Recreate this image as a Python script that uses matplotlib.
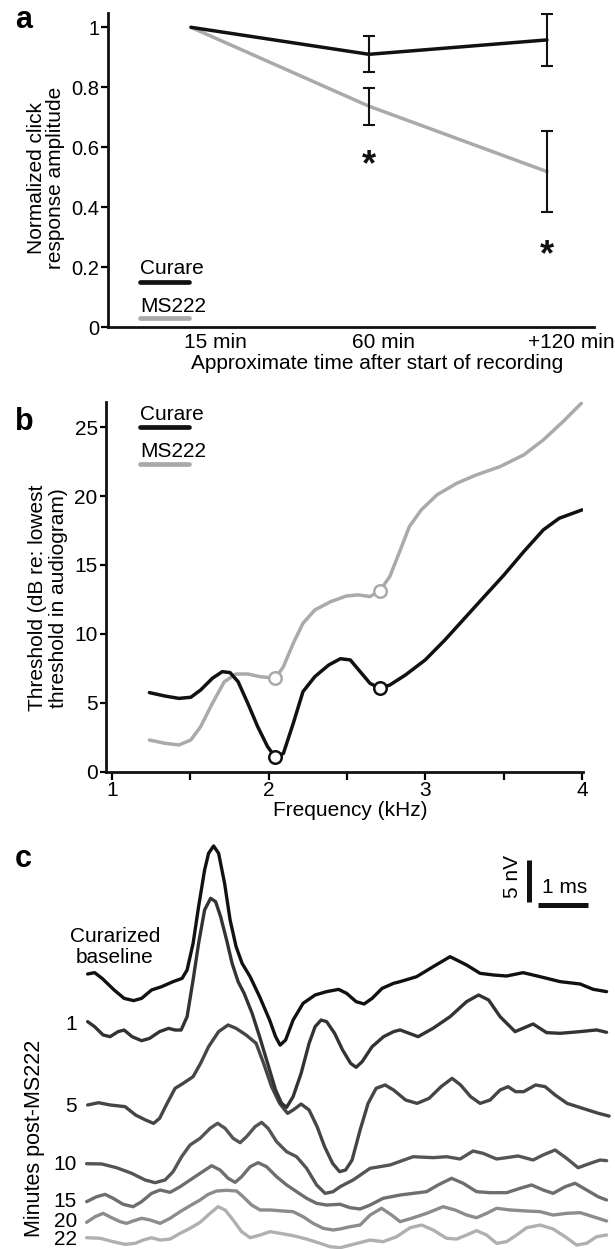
import matplotlib
matplotlib.use('Agg')
import matplotlib.pyplot as plt
from matplotlib.transforms import ScaledTranslation

plt.rcParams['font.family'] = ['Liberation Sans', 'DejaVu Sans']

# ---------------- data: panel a ----------------
time_labels = ['15 min', '60 min', '+120 min']
time_pos = [1, 2, 3]
curare_amp = [1.0, 0.91, 0.958]
curare_err = [0.0, 0.06, 0.087]
ms222_amp = [1.0, 0.737, 0.519]
ms222_err = [0.0, 0.062, 0.134]
sig_pos = [2, 3]
sig_y = [0.569, 0.269]
a_yticks = [0, 0.2, 0.4, 0.6, 0.8, 1]
a_yticklabels = ['0', '0.2', '0.4', '0.6', '0.8', '1']

# ---------------- data: panel b ----------------
freq_curare = [1.239, 1.339, 1.427, 1.503, 1.566, 1.641, 1.704, 1.754, 1.805, 1.867,
               1.930, 1.993, 2.043, 2.094, 2.157, 2.219, 2.295, 2.383, 2.458, 2.521,
               2.584, 2.647, 2.710, 2.773, 2.873, 2.999, 3.125, 3.250, 3.376, 3.502,
               3.628, 3.753, 3.854, 4.0]
thr_curare = [5.74, 5.49, 5.32, 5.40, 5.93, 6.78, 7.26, 7.19, 6.53, 4.96,
              3.27, 1.82, 1.04, 1.33, 3.51, 5.81, 6.90, 7.74, 8.20, 8.11,
              7.26, 6.41, 6.05, 6.29, 7.02, 8.11, 9.56, 11.13, 12.71, 14.28,
              15.97, 17.55, 18.39, 19.0]
freq_ms222 = [1.239, 1.339, 1.427, 1.503, 1.566, 1.641, 1.717, 1.792, 1.867, 1.943,
              2.043, 2.094, 2.157, 2.219, 2.295, 2.396, 2.496, 2.571, 2.647, 2.710,
              2.773, 2.836, 2.898, 2.974, 3.074, 3.200, 3.326, 3.477, 3.628, 3.753,
              3.879, 4.0]
thr_ms222 = [2.30, 2.06, 1.94, 2.30, 3.27, 4.96, 6.53, 7.09, 7.09, 6.90,
             6.78, 7.62, 9.32, 10.77, 11.74, 12.34, 12.75, 12.83, 12.71, 13.14,
             14.16, 15.97, 17.79, 19.00, 20.09, 20.93, 21.54, 22.14, 22.99, 24.08,
             25.41, 26.79]
mark_freq = [2.043, 2.710]
mark_curare = [1.04, 6.05]
mark_ms222 = [6.78, 13.14]
b_xticks = [1, 1.5, 2, 2.5, 3, 3.5, 4]
b_xticklabels = ['1', '', '2', '', '3', '', '4']
b_yticks = [0, 5, 10, 15, 20, 25]

# ---------------- data: panel c (time in ms, level in nV) ----------------
t_base = [0.02, 0.16, 0.31, 0.55, 0.75, 0.94, 1.10, 1.30, 1.50, 1.73, 1.91, 2.01, 2.13,
          2.24, 2.36, 2.44, 2.54, 2.64, 2.76, 2.87, 2.99, 3.11, 3.27, 3.46, 3.66, 3.78,
          3.87, 3.98, 4.13, 4.33, 4.57, 4.80, 5.04, 5.20, 5.39, 5.55, 5.71, 5.91, 6.14,
          6.27, 6.60, 6.93, 7.27, 7.60, 7.87, 8.14, 8.40, 8.73, 9.07, 9.47, 9.87, 10.13, 10.40]
v_base = [32.46, 32.62, 31.94, 30.56, 29.56, 29.29, 29.56, 30.56, 30.95, 31.55, 31.94, 32.94, 36.11,
          40.48, 44.84, 46.83, 47.70, 46.83, 43.25, 38.89, 35.71, 33.73, 32.14, 29.76, 26.98, 25.0,
          24.0, 24.6, 26.98, 28.97, 29.96, 30.36, 30.63, 30.16, 29.17, 28.89, 29.56, 30.75, 31.35,
          31.55, 32.14, 33.33, 34.52, 33.53, 32.54, 32.34, 32.22, 32.62, 32.14, 31.55, 31.27, 30.64, 30.36]

t_m1 = [0.02, 0.16, 0.33, 0.47, 0.63, 0.75, 0.91, 1.10, 1.26, 1.46, 1.64, 1.77, 1.89, 2.01,
        2.13, 2.24, 2.36, 2.48, 2.58, 2.68, 2.80, 2.91, 3.03, 3.15, 3.31, 3.46, 3.62, 3.78,
        3.90, 4.0, 4.13, 4.29, 4.45, 4.57, 4.69, 4.80, 4.96, 5.12, 5.28, 5.39, 5.51, 5.71,
        5.94, 6.14, 6.27, 6.63, 6.93, 7.27, 7.60, 7.84, 8.04, 8.27, 8.57, 8.93, 9.20, 9.47,
        9.87, 10.20, 10.40]
v_m1 = [26.79, 26.19, 25.20, 25.0, 25.60, 25.79, 25.0, 24.52, 24.80, 25.60, 25.99, 25.79, 25.79, 27.38,
        31.75, 36.11, 40.08, 41.47, 41.07, 39.29, 36.51, 33.73, 31.55, 30.16, 27.78, 25.0, 21.83, 18.65,
        17.06, 16.59, 17.86, 20.63, 24.21, 26.19, 26.98, 26.79, 25.40, 23.41, 21.83, 21.35, 22.02, 23.81,
        25.0, 25.60, 25.8, 25.0, 26.0, 27.38, 29.17, 29.96, 29.37, 27.38, 25.6, 26.51, 25.48, 25.40,
        25.6, 25.8, 25.52]

t_m5 = [0.02, 0.24, 0.47, 0.77, 0.98, 1.18, 1.34, 1.46, 1.61, 1.77, 1.93, 2.13, 2.28, 2.44,
        2.64, 2.83, 2.99, 3.19, 3.39, 3.54, 3.70, 3.86, 4.02, 4.13, 4.29, 4.45, 4.61, 4.76,
        4.92, 5.06, 5.18, 5.31, 5.47, 5.63, 5.79, 5.97, 6.14, 6.38, 6.61, 6.85, 7.09, 7.31,
        7.48, 7.68, 7.87, 8.07, 8.27, 8.43, 8.58, 8.74, 8.98, 9.17, 9.37, 9.61, 9.92, 10.24, 10.45]
v_m5 = [16.87, 17.14, 16.87, 16.67, 15.67, 15.08, 14.68, 15.28, 17.06, 18.85, 19.44, 20.24, 21.83, 23.81,
        25.60, 26.39, 25.99, 25.20, 24.21, 21.83, 19.05, 17.06, 15.87, 16.27, 16.98, 16.27, 14.29, 11.90,
        9.92, 8.93, 9.13, 10.32, 13.89, 17.06, 18.85, 19.25, 18.65, 17.46, 17.06, 17.66, 19.05, 20.04,
        19.25, 17.86, 17.06, 17.46, 18.65, 19.05, 18.45, 18.45, 19.25, 19.05, 18.06, 17.06, 16.47, 15.87, 15.55]

t_m10 = [0.0, 0.30, 0.60, 0.90, 1.17, 1.37, 1.57, 1.73, 1.90, 2.07, 2.27, 2.47, 2.62, 2.77,
         2.93, 3.07, 3.20, 3.37, 3.50, 3.63, 3.80, 4.00, 4.20, 4.40, 4.60, 4.77, 4.93, 5.07,
         5.33, 5.67, 6.07, 6.53, 6.93, 7.20, 7.47, 7.73, 7.93, 8.20, 8.40, 8.63, 8.93, 9.13,
         9.37, 9.60, 9.83, 10.07, 10.27, 10.40]
v_m10 = [9.88, 9.85, 9.40, 8.74, 7.94, 7.62, 7.94, 8.93, 10.71, 12.11, 12.90, 14.09, 14.69, 14.09,
         12.90, 12.38, 13.10, 14.29, 14.80, 14.09, 12.50, 11.31, 10.71, 9.33, 7.35, 6.35, 6.55, 7.14,
         7.94, 9.33, 9.73, 10.71, 10.60, 10.71, 10.44, 11.39, 11.11, 10.44, 10.60, 10.80, 10.32, 10.92,
         11.51, 10.52, 9.40, 9.92, 10.32, 10.24]

t_m15 = [0.0, 0.20, 0.37, 0.53, 0.73, 0.93, 1.10, 1.30, 1.47, 1.67, 1.87, 2.07, 2.30, 2.50,
         2.67, 2.83, 2.97, 3.10, 3.27, 3.43, 3.60, 3.80, 4.00, 4.20, 4.40, 4.60, 4.80, 5.07,
         5.27, 5.47, 5.67, 5.93, 6.27, 6.53, 6.80, 7.03, 7.30, 7.53, 7.80, 8.07, 8.40, 8.67,
         8.90, 9.13, 9.33, 9.57, 9.77, 10.0, 10.23, 10.40]
v_m15 = [5.36, 5.95, 6.23, 5.76, 5.05, 4.76, 5.36, 6.35, 6.75, 6.47, 7.14, 7.94, 8.85, 9.64,
         9.13, 8.14, 7.66, 8.33, 9.52, 10.0, 9.52, 8.33, 7.35, 6.55, 5.76, 5.16, 4.96, 5.05,
         4.64, 4.49, 4.96, 5.76, 6.15, 6.35, 6.55, 7.35, 8.14, 7.55, 6.55, 6.43, 6.43, 6.95,
         7.35, 6.75, 6.35, 7.14, 7.55, 6.75, 5.95, 5.56]

t_m20 = [0.0, 0.17, 0.33, 0.50, 0.67, 0.80, 0.93, 1.10, 1.27, 1.47, 1.67, 1.87, 2.07, 2.27,
         2.43, 2.60, 2.80, 3.00, 3.13, 3.30, 3.47, 3.67, 3.93, 4.13, 4.33, 4.53, 4.73, 4.93,
         5.07, 5.27, 5.47, 5.67, 5.90, 6.10, 6.27, 6.50, 6.80, 7.13, 7.37, 7.60, 7.80, 8.00,
         8.20, 8.47, 8.80, 9.07, 9.33, 9.60, 9.87, 10.13, 10.40]
v_m20 = [2.90, 3.57, 3.97, 3.45, 2.98, 2.78, 3.06, 3.38, 3.18, 2.78, 3.38, 4.17, 4.88, 5.56,
         6.23, 6.63, 6.71, 6.63, 5.95, 4.96, 4.37, 4.37, 4.25, 4.17, 3.57, 2.78, 2.19, 1.99,
         2.11, 2.38, 2.58, 3.77, 4.57, 3.77, 2.98, 3.38, 3.97, 4.76, 4.37, 3.77, 3.45, 3.97,
         4.57, 4.37, 4.25, 4.17, 3.77, 3.97, 4.05, 3.57, 3.06]

t_m22 = [0.0, 0.27, 0.53, 0.77, 0.97, 1.13, 1.30, 1.47, 1.67, 1.87, 2.07, 2.27, 2.47, 2.63,
         2.77, 2.93, 3.10, 3.27, 3.47, 3.67, 3.87, 4.13, 4.40, 4.67, 4.87, 5.07, 5.33, 5.67,
         5.93, 6.20, 6.47, 6.70, 6.93, 7.20, 7.40, 7.60, 7.80, 8.00, 8.20, 8.40, 8.60, 8.80,
         9.07, 9.33, 9.57, 9.80, 10.0, 10.20, 10.40]
v_m22 = [1.07, 1.0, 0.60, 0.28, 0.40, 0.79, 1.07, 0.79, 0.91, 1.59, 2.19, 2.90, 3.97, 4.76,
         4.37, 3.18, 1.79, 1.07, 1.39, 1.79, 1.59, 1.31, 0.91, 0.40, 0.0, -0.12, 0.28, 0.79,
         0.60, 1.19, 2.26, 2.58, 1.99, 1.0, 0.91, 1.39, 1.91, 1.39, 0.40, 0.60, 1.39, 2.26,
         2.58, 2.11, 1.19, 0.20, 0.40, 1.19, 1.39]

trace_names = ['base', '1', '5', '10', '15', '20', '22']
trace_t = [t_base, t_m1, t_m5, t_m10, t_m15, t_m20, t_m22]
trace_v = [v_base, v_m1, v_m5, v_m10, v_m15, v_m20, v_m22]
trace_colors = ['#111111', '#333333', '#454545', '#555555', '#6e6e6e', '#8c8c8c', '#b0b0b0']
minute_labels = ['1', '5', '10', '15', '20', '22']

# ---------------- figure ----------------
W, H = 615, 1249
fig = plt.figure(figsize=(W / 100, H / 100), dpi=100)


def fx(px):
    return px / W


def fy(py):
    return 1 - py / H


BLACK = '#111111'
GRAY = '#aaaaaa'
FS = 15

# ---------------- panel a ----------------
ax_a = fig.add_axes([fx(108), fy(327.3), (594 - 108) / W, (327.3 - 13) / H])
ax_a.set_xlim(0.534, 3.264)
ax_a.set_ylim(0, 1.0477)
ax_a.plot(time_pos, ms222_amp, color=GRAY, lw=2.5, solid_capstyle='round', zorder=2)
ax_a.plot(time_pos, curare_amp, color=BLACK, lw=2.5, solid_capstyle='round', zorder=3)
ax_a.errorbar(time_pos[1:], ms222_amp[1:], yerr=ms222_err[1:], fmt='none', ecolor=BLACK,
              elinewidth=1.5, capsize=4.5, capthick=1.5, zorder=4)
ax_a.errorbar(time_pos[1:], curare_amp[1:], yerr=curare_err[1:], fmt='none', ecolor=BLACK,
              elinewidth=1.5, capsize=4.5, capthick=1.5, zorder=4)
for xp, yp in zip(sig_pos, sig_y):
    ax_a.text(xp, yp, '*', ha='center', va='baseline', fontsize=26, fontweight='bold',
              color=BLACK,
              transform=ax_a.transData + ScaledTranslation(0, -0.19, fig.dpi_scale_trans))

for s in ['top', 'right']:
    ax_a.spines[s].set_visible(False)
for s in ['left', 'bottom']:
    ax_a.spines[s].set_linewidth(2.0)
    ax_a.spines[s].set_color(BLACK)
ax_a.set_yticks(a_yticks, a_yticklabels)
ax_a.tick_params(axis='y', direction='out', length=4.8, width=1.6, labelsize=14.5, pad=1.5)
ax_a.set_xticks(time_pos, time_labels)
ax_a.tick_params(axis='x', length=0, labelsize=FS, pad=4)
for lab, dx in zip(ax_a.get_xticklabels(), [24, 15, 24]):
    lab.set_transform(lab.get_transform() + ScaledTranslation(dx / 100, 0, fig.dpi_scale_trans))

# legend a
ax_a.plot([0.0658, 0.1667], [0.144, 0.144], color=BLACK, lw=3.4, solid_capstyle='round',
          transform=ax_a.transAxes, clip_on=False)
ax_a.plot([0.0658, 0.1667], [0.0286, 0.0286], color=GRAY, lw=3.4, solid_capstyle='round',
          transform=ax_a.transAxes, clip_on=False)
ax_a.text(0.0658, 0.1696, 'Curare', fontsize=FS, va='baseline', ha='left', transform=ax_a.transAxes)
ax_a.text(0.0658, 0.0487, 'MS222', fontsize=FS, va='baseline', ha='left', transform=ax_a.transAxes)

fig.text(fx(377), fy(369), 'Approximate time after start of recording', ha='center',
         va='baseline', fontsize=FS)
fig.text(fx(46), fy(178), 'Normalized click\nresponse amplitude', rotation=90, ha='center',
         va='center', fontsize=FS, linespacing=1.05, multialignment='center')
fig.text(fx(15), fy(28), 'a', fontsize=22, fontweight='bold', va='baseline', ha='left')

# ---------------- panel b ----------------
ax_b = fig.add_axes([fx(106), fy(771.7), (583 - 106) / W, (771.7 - 401.7) / H])
ax_b.set_xlim(0.962, 4.006)
ax_b.set_ylim(0, 26.85)
ax_b.plot(freq_ms222, thr_ms222, color=GRAY, lw=2.5, solid_capstyle='round',
          solid_joinstyle='round', zorder=2)
ax_b.plot(freq_curare, thr_curare, color=BLACK, lw=2.5, solid_capstyle='round',
          solid_joinstyle='round', zorder=3)
ax_b.plot(mark_freq, mark_ms222, 'o', ms=9, mfc='white', mec=GRAY, mew=1.8, zorder=5)
ax_b.plot(mark_freq, mark_curare, 'o', ms=9, mfc='white', mec=BLACK, mew=1.8, zorder=5)
for s in ['top', 'right']:
    ax_b.spines[s].set_visible(False)
for s in ['left', 'bottom']:
    ax_b.spines[s].set_linewidth(2.0)
    ax_b.spines[s].set_color(BLACK)
ax_b.set_xticks(b_xticks, b_xticklabels)
ax_b.set_yticks(b_yticks)
ax_b.tick_params(axis='x', direction='out', length=5.5, width=1.6, labelsize=FS, pad=1)
ax_b.tick_params(axis='y', direction='out', length=4.5, width=1.6, labelsize=FS, pad=1.5)

ax_b.plot([0.0713, 0.174], [0.9324, 0.9324], color=BLACK, lw=3.4, solid_capstyle='round',
          transform=ax_b.transAxes, clip_on=False)
ax_b.plot([0.0713, 0.174], [0.8308, 0.8308], color=GRAY, lw=3.4, solid_capstyle='round',
          transform=ax_b.transAxes, clip_on=False)
ax_b.text(0.0713, 0.9505, 'Curare', fontsize=FS, va='baseline', ha='left', transform=ax_b.transAxes)
ax_b.text(0.0713, 0.8514, 'MS222', fontsize=FS, va='baseline', ha='left', transform=ax_b.transAxes)

fig.text(fx(350), fy(816), 'Frequency (kHz)', ha='center', va='baseline', fontsize=FS)
fig.text(fx(48), fy(598), 'Threshold (dB re: lowest\nthreshold in audiogram)', rotation=90,
         ha='center', va='center', fontsize=FS, linespacing=1.12, multialignment='center')
fig.text(fx(15), fy(430), 'b', fontsize=22, fontweight='bold', va='baseline', ha='left')

# ---------------- panel c ----------------
ax_c = fig.add_axes([0, 0, 1, 419 / H])
ax_c.set_xlim(-1.732, 10.568)
ax_c.set_ylim(-0.274, 49.6)
ax_c.axis('off')
for tt, vv, cc in zip(trace_t[::-1], trace_v[::-1], trace_colors[::-1]):
    ax_c.plot(tt, vv, color=cc, lw=2.4, solid_capstyle='round', solid_joinstyle='round',
              clip_on=False)

# scale bars (5 nV, 1 ms)
ax_c.plot([8.85, 8.85], [41.04, 41.04 + 5], color=BLACK, lw=3.6, solid_capstyle='butt')
ax_c.plot([9.03, 9.03 + 1], [40.68, 40.68], color=BLACK, lw=3.6, solid_capstyle='butt')
fig.text(fx(512), fy(876), '5 nV', rotation=90, ha='center', va='center', fontsize=FS)
fig.text(fx(565), fy(893), '1 ms', ha='center', va='baseline', fontsize=FS)

fig.text(fx(115), fy(942), 'Curarized', ha='center', va='baseline', fontsize=FS)
fig.text(fx(115), fy(963), 'baseline', ha='center', va='baseline', fontsize=FS)
for lab, yb in zip(minute_labels, [1030, 1112, 1170, 1207, 1227, 1245]):
    fig.text(fx(77), fy(yb), lab, ha='right', va='baseline', fontsize=FS)
fig.text(fx(35), fy(1138), 'Minutes post-MS222', rotation=90, ha='center', va='center',
         fontsize=15.5)
fig.text(fx(15), fy(867), 'c', fontsize=22, fontweight='bold', va='baseline', ha='left')

fig.savefig('out.png', dpi=100, facecolor='white')
